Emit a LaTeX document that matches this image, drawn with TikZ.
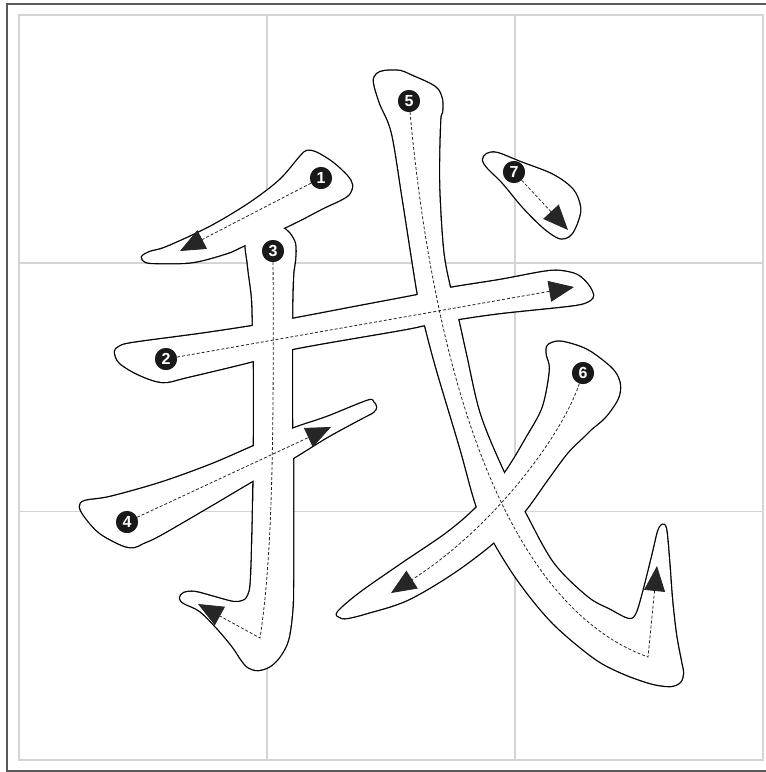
\documentclass[tikz,border=0pt]{standalone}
\usepackage{fontspec}
\setsansfont{Liberation Sans}
\usetikzlibrary{arrows.meta}
\newcommand\strkA{plot[smooth cycle,tension=0.55] coordinates {(142,257) (150,252) (167,247) (210,227) (250,203) (280,180) (300,157) (307,151) (317,153) (333,163) (347,176) (352,185) (349,194) (340,200) (323,208) (300,220) (275,232) (245,245) (227,253) (193,262) (160,263) (146,262)}}
\newcommand\strkB{plot[smooth cycle,tension=0.55] coordinates {(115,352) (119,347) (133,343) (200,334) (253,326) (292,319) (355,307) (418,295) (450,288) (500,280) (543,272) (560,271) (577,275) (588,285) (593,295) (590,300) (580,304) (557,307) (500,313) (458,319) (425,325) (400,330) (292,349) (253,361) (187,377) (163,382) (140,375) (120,363)}}
\newcommand\strkC{plot[smooth cycle,tension=0.55] coordinates {(247,238) (270,226) (281,227) (289,233) (295,244) (295,260) (293,276) (292,320) (292,430) (293,460) (293,580) (292,613) (288,640) (280,656) (270,666) (258,670) (248,667) (241,659) (233,647) (218,629) (200,611) (184,603) (180,598) (184,593) (195,592) (214,597) (233,602) (243,601) (248,596) (251,580) (253,513) (254,446) (254,361) (253,326) (252,297) (248,265)}}
\newcommand\strkD{plot[smooth cycle,tension=0.55] coordinates {(80,507) (85,501) (110,497) (160,483) (210,465) (254,446) (292,429) (327,417) (367,401) (373,402) (376,407) (373,412) (360,419) (327,437) (293,458) (254,480) (210,506) (160,535) (143,543) (134,547) (122,545) (100,533) (86,518)}}
\newcommand\strkE{plot[smooth cycle,tension=0.55] coordinates {(374,82) (377,74) (385,71) (400,71) (410,75) (430,84) (438,90) (442,100) (442,112) (440,122) (439,183) (443,250) (450,288) (458,319) (466,355) (480,415) (504,473) (525,513) (553,563) (587,597) (610,610) (628,619) (636,615) (643,593) (653,553) (658,532) (662,525) (666,529) (669,560) (672,600) (676,635) (681,662) (683,673) (680,682) (670,686) (650,683) (620,672) (593,657) (553,623) (520,583) (494,542) (477,507) (460,447) (437,370) (425,325) (418,295) (403,200) (392,133) (380,103)}}
\newcommand\strkF{plot[smooth cycle,tension=0.55] coordinates {(547,347) (552,343) (563,342) (587,350) (610,367) (618,378) (620,388) (617,400) (605,417) (590,430) (583,437) (567,453) (547,480) (523,513) (494,542) (453,573) (407,600) (367,613) (347,618) (340,617) (338,612) (360,593) (403,563) (447,533) (477,507) (505,473) (527,437) (543,407) (550,370) (547,355)}}
\newcommand\strkG{plot[smooth cycle,tension=0.55] coordinates {(483,160) (487,154) (497,153) (520,162) (553,175) (573,190) (580,207) (578,220) (572,233) (565,238) (557,237) (543,227) (523,207) (503,183) (488,168)}}
\begin{document}
\begin{tikzpicture}[x=1pt,y=-1pt,
  gridline/.style={draw=black!17, line width=1.1pt},
  frameline/.style={draw=black!65, line width=1.6pt},
  outline/.style={draw=black, line width=2.6pt, line join=round},
  inside/.style={fill=white},
  guide/.style={draw=black!85, line width=0.8pt, dash pattern=on 3pt off 2pt, -{Triangle[length=25pt,width=21pt]}},
  num/.style={circle, fill=black!90, text=white, minimum size=22pt, inner sep=0pt, font=\sffamily\bfseries\fontsize{16}{16}\selectfont}
]
\useasboundingbox (0,0) rectangle (766,772);
\fill[white] (0,0) rectangle (766,772);
% frame and grid
\draw[frameline] (7,4) rectangle (771,771);
\draw[gridline] (19,15) rectangle (763,760);
\draw[gridline] (267,15) -- (267,760);
\draw[gridline] (515,15) -- (515,760);
\draw[gridline] (19,263) -- (763,263);
\draw[gridline] (19,511.5) -- (763,511.5);
% stroke outlines (union): thick outline then white fill
\draw[outline] \strkA; \draw[outline] \strkB; \draw[outline] \strkC; \draw[outline] \strkD;
\draw[outline] \strkE; \draw[outline] \strkF; \draw[outline] \strkG;
\fill[inside] \strkA; \fill[inside] \strkB; \fill[inside] \strkC; \fill[inside] \strkD;
\fill[inside] \strkE; \fill[inside] \strkF; \fill[inside] \strkG;
% numbered starts
\node[num] (n1) at (321,178) {1};
\node[num] (n2) at (166,359) {2};
\node[num] (n3) at (273,251) {3};
\node[num] (n4) at (127,522) {4};
\node[num] (n5) at (409,101) {5};
\node[num] (n6) at (583,373) {6};
\node[num] (n7) at (514,172) {7};
% arrow tips and bends
\coordinate (t1) at (180,251);
\coordinate (t2) at (574,287);
\coordinate (c3) at (260,638);
\coordinate (t3) at (198,604);
\coordinate (t4) at (331,427);
\coordinate (c5) at (648,657);
\coordinate (t5) at (657,566);
\coordinate (t6) at (391,593);
\coordinate (t7) at (568,230);
% guides
\draw[guide] (n1) -- (t1);
\draw[guide] (n2) -- (t2);
\draw[guide] (n3) .. controls (274,450) and (272,560) .. (c3) -- (t3);
\draw[guide] (n4) -- (t4);
\draw[guide] (n5) .. controls (430,330) and (490,600) .. (c5) -- (t5);
\draw[guide] (n6) .. controls (560,440) and (490,530) .. (t6);
\draw[guide] (n7) -- (t7);
% circles on top of the guides
\foreach \p/\t in {n1/1,n2/2,n3/3,n4/4,n5/5,n6/6,n7/7}{
  \node[num] at (\p) {\t};
}
\end{tikzpicture}
\end{document}
